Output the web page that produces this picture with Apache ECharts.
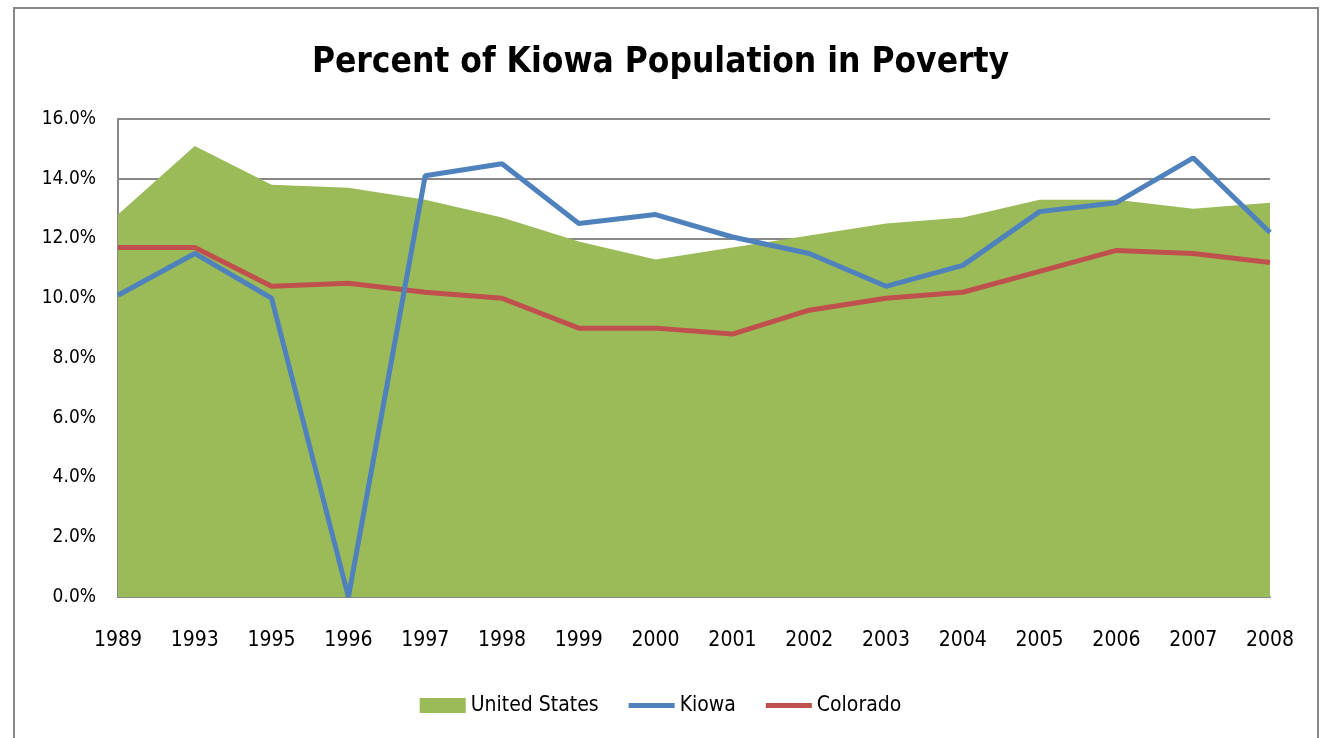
<!DOCTYPE html>
<html style="height: 100%">
<head>
<meta charset="utf-8" />
<title>Percent of Kiowa Population in Poverty</title>
</head>
<body style="height: 100%; margin: 0; background: #fff">
<div id="container" style="width: 1321px; height: 738px"></div>
<script type="text/javascript" src="https://cdn.jsdelivr.net/npm/echarts@6/dist/echarts.min.js"></script>
<script type="text/javascript">
// values, in percent
var years = ['1989', '1993', '1995', '1996', '1997', '1998', '1999', '2000',
             '2001', '2002', '2003', '2004', '2005', '2006', '2007', '2008'];
var unitedStates = [12.8, 15.1, 13.8, 13.7, 13.3, 12.7, 11.9, 11.3, 11.7, 12.1, 12.5, 12.7, 13.3, 13.3, 13.0, 13.2];
var kiowa = [10.1, 11.5, 10.0, 0.0, 14.1, 14.5, 12.5, 12.8, 12.05, 11.5, 10.4, 11.1, 12.9, 13.2, 14.7, 12.2];
var colorado = [11.7, 11.7, 10.4, 10.5, 10.2, 10.0, 9.0, 9.0, 8.8, 9.6, 10.0, 10.2, 10.9, 11.6, 11.5, 11.2];
var yTicks = { min: 0, max: 16, step: 2 };

var font = "'Liberation Sans Narrow', 'DejaVu Sans Condensed', sans-serif";
var lineIcon = 'path://M0,0 L46,0 L46,5 L0,5 Z';

var myChart = echarts.init(document.getElementById('container'));
var option = {
    animation: false,
    backgroundColor: '#fff',
    textStyle: { fontFamily: font },
    title: {
        text: 'Percent of Kiowa Population in Poverty',
        left: 'center',
        top: 40,
        textStyle: { fontFamily: font, fontSize: 35, fontWeight: 'bold', color: '#000' }
    },
    graphic: [{
        type: 'rect',
        shape: { x: 14, y: 8, width: 1304, height: 745 },
        style: { fill: 'none', stroke: '#888', lineWidth: 2 },
        silent: true
    }],
    legend: {
        bottom: 17,
        left: 'center',
        itemGap: 30,
        itemWidth: 46,
        itemHeight: 15,
        textStyle: { fontFamily: font, fontSize: 21, color: '#000' },
        data: [
            { name: 'United States', icon: 'rect' },
            { name: 'Kiowa', icon: lineIcon, itemStyle: { color: '#4F81BD' } },
            { name: 'Colorado', icon: lineIcon, itemStyle: { color: '#C0504D' } }
        ]
    },
    grid: { left: 118, right: 51, top: 119, bottom: 141 },
    xAxis: {
        type: 'category',
        data: years,
        boundaryGap: false,
        axisLine: { lineStyle: { color: '#888', width: 2 } },
        axisTick: { show: false },
        axisLabel: { fontFamily: font, fontSize: 21, color: '#000', margin: 33 }
    },
    yAxis: {
        type: 'value',
        min: yTicks.min,
        max: yTicks.max,
        interval: yTicks.step,
        axisLine: { show: true, lineStyle: { color: '#888', width: 2 } },
        axisTick: { show: false },
        splitLine: { lineStyle: { color: '#888', width: 2 } },
        axisLabel: {
            fontFamily: font, fontSize: 19, color: '#000', margin: 22,
            formatter: function (v) { return v.toFixed(1) + '%'; }
        }
    },
    series: [{
        name: 'United States',
        type: 'line',
        data: unitedStates,
        symbol: 'none',
        lineStyle: { width: 0 },
        itemStyle: { color: '#9BBB59' },
        areaStyle: { color: '#9BBB59', opacity: 1 },
        z: 1
    }, {
        name: 'Kiowa',
        type: 'line',
        data: kiowa,
        symbol: 'none',
        lineStyle: { width: 5, color: '#4F81BD' },
        itemStyle: { color: '#4F81BD' },
        z: 3
    }, {
        name: 'Colorado',
        type: 'line',
        data: colorado,
        symbol: 'none',
        lineStyle: { width: 5, color: '#C0504D' },
        itemStyle: { color: '#C0504D' },
        z: 2
    }]
};
myChart.setOption(option);
</script>
</body>
</html>
